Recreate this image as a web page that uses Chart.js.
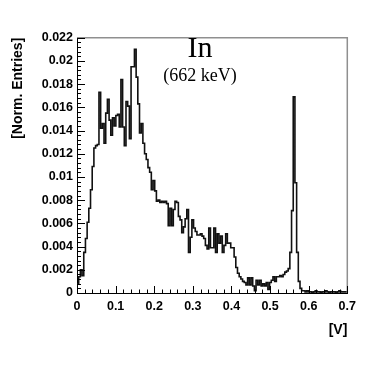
<!DOCTYPE html>
<html>
<head>
<meta charset="utf-8">
<script src="https://cdn.jsdelivr.net/npm/chart.js@4"></script>
<style>
  html, body { margin: 0; padding: 0; background: #fff; }
</style>
</head>
<body>
<canvas id="hist" width="388" height="368"></canvas>
<script>
// histogram: 160 bins from 0 to 0.7 V
const binWidth = 0.004375;
const binValues = [
  0.0008, 0.0014, 0.0020, 0.0015, 0.0035, 0.0047, 0.0061, 0.0073, 0.0089, 0.0109,
  0.0125, 0.0127, 0.0128, 0.0173, 0.0142, 0.0146, 0.0129, 0.0155, 0.0167, 0.0149,
  0.0136, 0.0151, 0.0144, 0.0153, 0.0154, 0.0143, 0.0184, 0.0143, 0.0127, 0.0165,
  0.0161, 0.0133, 0.0195, 0.0195, 0.0210, 0.0186, 0.0163, 0.0138, 0.0146, 0.0129,
  0.0120, 0.0115, 0.0108, 0.0104, 0.0089, 0.0097, 0.0088, 0.0079, 0.0080, 0.0078,
  0.0079, 0.0078, 0.0079, 0.0077, 0.0058, 0.0073, 0.0058, 0.0072, 0.0079, 0.0078,
  0.0066, 0.0063, 0.0052, 0.0057, 0.0064, 0.0072, 0.0035, 0.0048, 0.0063, 0.0056,
  0.0053, 0.0050, 0.0050, 0.0051, 0.0049, 0.0047, 0.0041, 0.0038, 0.0056, 0.0039,
  0.0039, 0.0056, 0.0035, 0.0051, 0.0043, 0.0049, 0.0035, 0.0041, 0.0051, 0.0043,
  0.0043, 0.0039, 0.0039, 0.0031, 0.0022, 0.0017, 0.0014, 0.0012, 0.0010, 0.0009,
  0.0007, 0.0013, 0.0007, 0.0013, 0.0006, 0.0002, 0.0011, 0.0007, 0.0011, 0.0006,
  0.0008, 0.0006, 0.0009, 0.0003, 0.0009, 0.0011, 0.0014, 0.0010, 0.0014, 0.0014,
  0.0015, 0.0014, 0.0016, 0.0018, 0.0019, 0.0021, 0.0035, 0.0071, 0.0169, 0.0095,
  0.0035, 0.0010, 0.0004, 0.0002, 0.0002, 0.0001, 0.0002, 0.0001, 0.0001, 0,
  0.0001, 0.0002, 0.0001, 0.0001, 0,      0.0001, 0.0001, 0.0002, 0.0001, 0,
  0.0001, 0.0001, 0.0001, 0,      0.0001, 0.0002, 0.0001, 0.0001, 0.0001, 0.0001
];
const xTickValues = [0, 0.1, 0.2, 0.3, 0.4, 0.5, 0.6, 0.7];
const yTickValues = [0, 0.002, 0.004, 0.006, 0.008, 0.01, 0.012, 0.014, 0.016, 0.018, 0.02, 0.022];
const xMinorStep = 0.02;
const yMinorStep = 0.0004;
const titleMain = 'In';
const titleSub = '(662 keV)';

const histPoints = [{ x: 0, y: 0 }]
  .concat(binValues.map((v, i) => ({ x: i * binWidth, y: v })))
  .concat([{ x: binValues.length * binWidth, y: binValues[binValues.length - 1] }]);

const labelFont = { family: '"Liberation Sans", Arial, sans-serif', size: 12.5, weight: 'bold' };
const titleFont = { family: '"Liberation Sans", Arial, sans-serif', size: 14, weight: 'bold' };

// ROOT style frame: inward ticks, grey top/right border, text label
const rootFrame = {
  id: 'rootFrame',
  afterDatasetsDraw(chart) {
    const { ctx, chartArea: a, scales: { x, y } } = chart;
    ctx.save();
    ctx.strokeStyle = '#8f8f8f';
    ctx.lineWidth = 1.5;
    ctx.beginPath();
    ctx.moveTo(a.left, a.top);
    ctx.lineTo(a.right, a.top);
    ctx.lineTo(a.right, a.bottom);
    ctx.stroke();

    ctx.strokeStyle = '#000';
    ctx.lineWidth = 1;
    ctx.beginPath();
    const nx = Math.round(x.max / xMinorStep);
    for (let i = 0; i <= nx; i++) {
      const px = Math.round(x.getPixelForValue(i * xMinorStep)) + 0.5;
      const len = i % 5 === 0 ? 7 : 3.5;
      ctx.moveTo(px, a.bottom);
      ctx.lineTo(px, a.bottom - len);
    }
    const ny = Math.round(y.max / yMinorStep);
    for (let i = 0; i <= ny; i++) {
      const py = Math.round(y.getPixelForValue(i * yMinorStep)) + 0.5;
      const len = i % 5 === 0 ? 8 : 4;
      ctx.moveTo(a.left, py);
      ctx.lineTo(a.left + len, py);
    }
    ctx.stroke();

    ctx.fillStyle = '#000';
    ctx.textAlign = 'center';
    ctx.textBaseline = 'alphabetic';
    ctx.font = '30px "Liberation Serif", "Times New Roman", serif';
    ctx.fillText(titleMain, 200, 57);
    ctx.font = '18px "Liberation Serif", "Times New Roman", serif';
    ctx.fillText(titleSub, 200, 81);
    ctx.restore();
  }
};

new Chart(document.getElementById('hist'), {
  type: 'line',
  data: {
    datasets: [{
      data: histPoints,
      stepped: true,
      borderColor: '#111',
      borderWidth: 1.6,
      pointRadius: 0,
      fill: false,
      tension: 0,
    }],
  },
  options: {
    responsive: false,
    devicePixelRatio: 1,
    animation: false,
    layout: { padding: { top: 37.7, right: 40.7, left: 0, bottom: 0 } },
    plugins: { legend: { display: false }, tooltip: { enabled: false } },
    scales: {
      x: {
        type: 'linear',
        min: 0,
        max: 0.7,
        afterBuildTicks: s => { s.ticks = xTickValues.map(v => ({ value: v })); },
        afterFit: s => { s.height = 75; },
        ticks: {
          autoSkip: false,
          maxRotation: 0,
          padding: 6,
          color: '#000',
          font: labelFont,
          callback: v => String(+v.toFixed(1)),
        },
        grid: { display: false, drawTicks: false },
        border: { display: true, color: '#000', width: 1 },
        title: {
          display: true,
          text: '[V]',
          align: 'end',
          color: '#000',
          font: titleFont,
          padding: { top: 0, bottom: 29 },
        },
      },
      y: {
        type: 'linear',
        min: 0,
        max: 0.022,
        afterBuildTicks: s => { s.ticks = yTickValues.map(v => ({ value: v })); },
        afterFit: s => { s.width = 77; },
        ticks: {
          autoSkip: false,
          padding: 4,
          color: '#000',
          font: labelFont,
          callback: v => String(+v.toFixed(3)),
        },
        grid: { display: false, drawTicks: false },
        border: { display: true, color: '#000', width: 1 },
        title: {
          display: true,
          text: '[Norm. Entries]',
          align: 'end',
          color: '#000',
          font: titleFont,
          padding: { top: 10, bottom: 0 },
        },
      },
    },
  },
  plugins: [rootFrame],
});
</script>
</body>
</html>
